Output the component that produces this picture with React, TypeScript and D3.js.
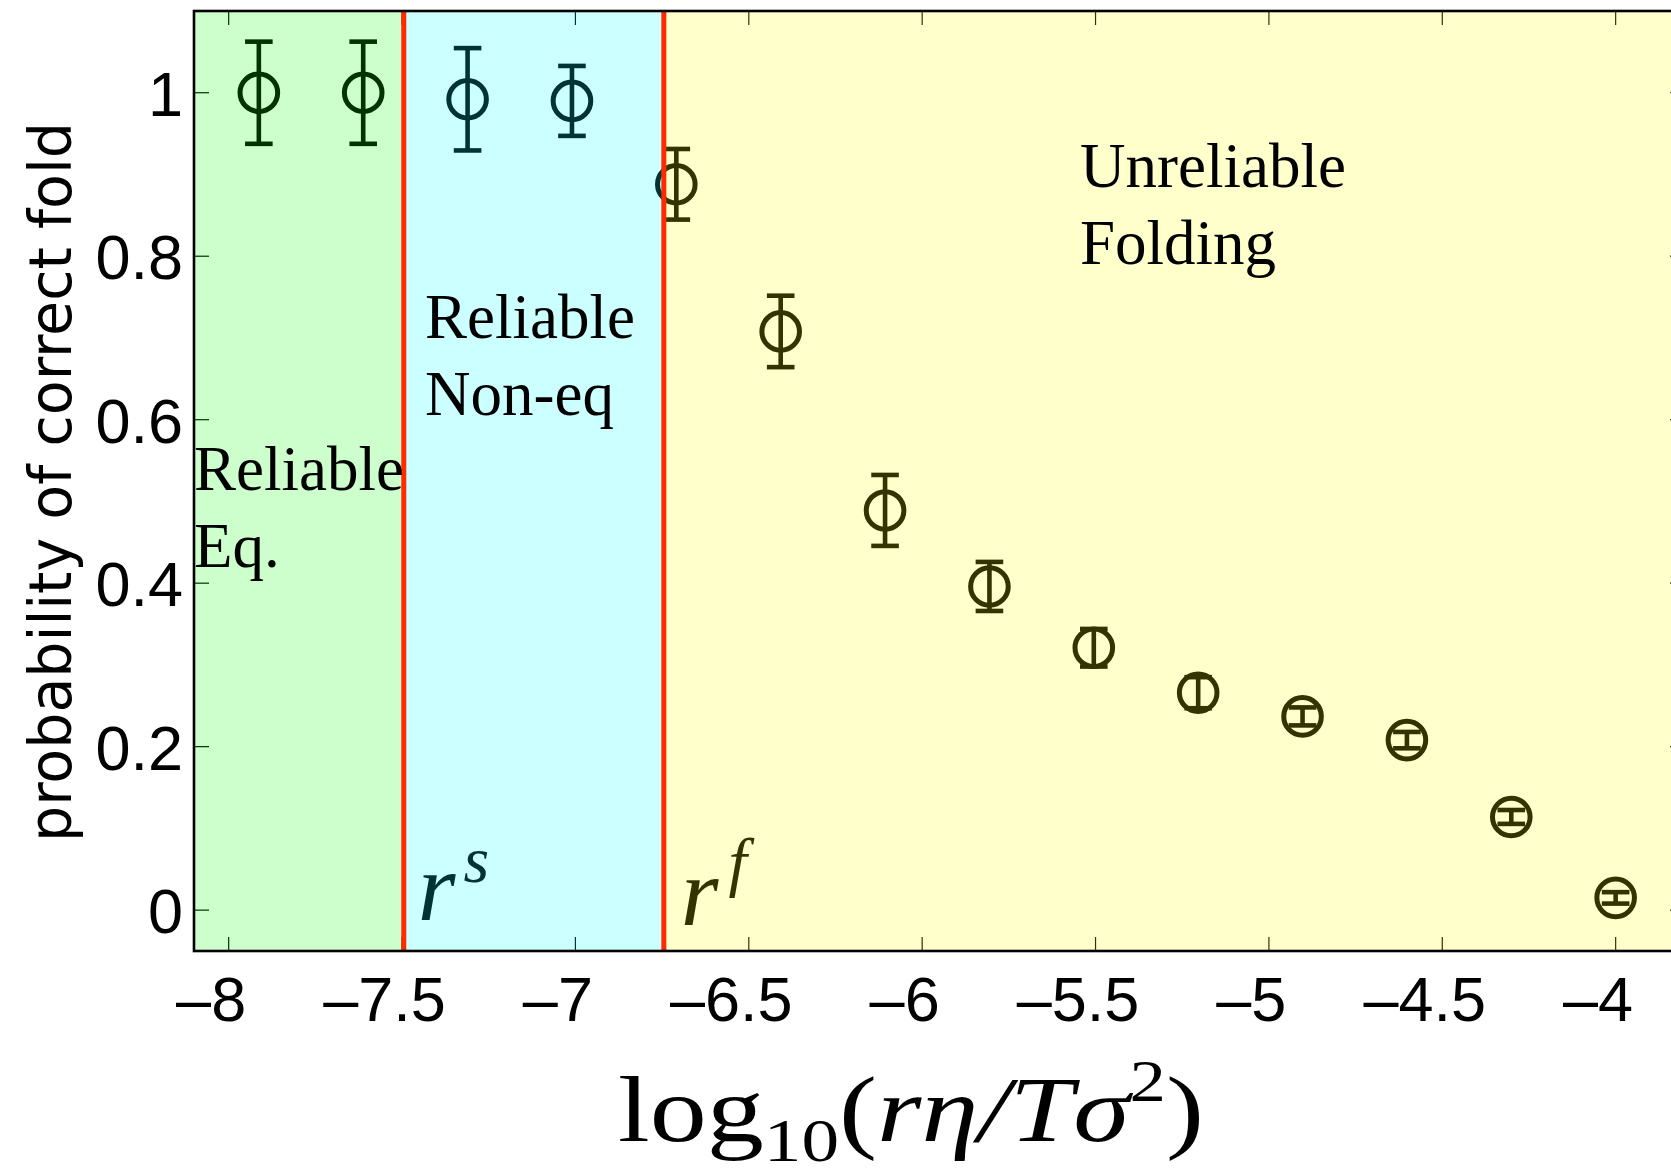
import React from "react";
import * as d3 from "d3";

// ---- data ----
const logRate = [-7.913, -7.612, -7.311, -7.01, -6.709, -6.408, -6.107, -5.806, -5.505, -5.204, -4.903, -4.602, -4.301, -4.0];
const probCorrect = [1.0, 1.0, 0.992, 0.99, 0.888, 0.708, 0.489, 0.396, 0.321, 0.266, 0.237, 0.208, 0.114, 0.015];
const probErr = [0.0625, 0.0625, 0.0626, 0.0428, 0.0432, 0.0437, 0.0434, 0.03, 0.023, 0.019, 0.011, 0.01, 0.0085, 0.007];
const xTicks = [-8, -7.5, -7, -6.5, -6, -5.5, -5, -4.5, -4];
const yTicks = [0, 0.2, 0.4, 0.6, 0.8, 1];
const regionEdges = [-8.1, -7.495, -6.745, -3.8];
const regionColors = ["#00ff00", "#00ffff", "#ffff00"];
const thresholds = [-7.495, -6.745];

const W = 1671;
const H = 1173;
const x = d3.scaleLinear().domain([-8.1, -3.8]).range([194, 1685]);
const y = d3.scaleLinear().domain([-0.05, 1.1]).range([951, 11]);

const SANS = "'Liberation Sans', Arial, Helvetica, sans-serif";
const SERIF = "'Liberation Serif', 'Times New Roman', serif";
const TICK_FS = 63;
const charW = (c: string) => (c === "." ? 0.278 : 0.556);
const digitsWidth = (s: string) => s.split("").reduce((a, c) => a + charW(c), 0) * TICK_FS;

export default function App() {
  const [x0, x1] = x.range();
  const [yb, yt] = y.range();
  return (
    <svg width={W} height={H} style={{ position: "absolute", left: 0, top: 0, display: "block" }}>
      <rect x={0} y={0} width={W} height={H} fill="#ffffff" />
      {/* ticks (below the translucent patches) */}
      <g stroke="#000" strokeWidth={1.2}>
        {xTicks.map((t) => (
          <g key={"xt" + t}>
            <line x1={x(t)} x2={x(t)} y1={yb} y2={yb - 14} />
            <line x1={x(t)} x2={x(t)} y1={yt} y2={yt + 14} />
          </g>
        ))}
        {yTicks.map((t) => (
          <g key={"yt" + t}>
            <line x1={x0} x2={x0 + 15} y1={y(t)} y2={y(t)} />
            <line x1={x1} x2={x1 - 15} y1={y(t)} y2={y(t)} />
          </g>
        ))}
      </g>
      {/* data with error bars */}
      <g stroke="#000" fill="none">
        {logRate.map((lx, i) => {
          const cx = x(lx);
          const cy = y(probCorrect[i]);
          const ylo = y(probCorrect[i] - probErr[i]);
          const yhi = y(probCorrect[i] + probErr[i]);
          return (
            <g key={"p" + i}>
              <line x1={cx} x2={cx} y1={yhi} y2={ylo} strokeWidth={4.6} />
              <line x1={cx - 13.8} x2={cx + 13.8} y1={yhi} y2={yhi} strokeWidth={4.6} />
              <line x1={cx - 13.8} x2={cx + 13.8} y1={ylo} y2={ylo} strokeWidth={4.6} />
              <circle cx={cx} cy={cy} r={18.8} strokeWidth={5} />
            </g>
          );
        })}
      </g>
      {/* threshold symbols (below patches, so tinted) */}
      <text x={x(thresholds[0]) + 14} y={920} fontFamily={SERIF} fontStyle="italic" fontSize={97} fill="#000">
        r<tspan fontSize={66} dy={-38} dx={8}>s</tspan>
      </text>
      <text x={x(thresholds[1]) + 17} y={925} fontFamily={SERIF} fontStyle="italic" fontSize={97} fill="#000">
        r<tspan fontSize={66} dy={-41} dx={10}>f</tspan>
      </text>
      {/* translucent region patches */}
      {regionColors.map((c, i) => (
        <rect
          key={"r" + i}
          x={x(regionEdges[i])}
          y={yt}
          width={x(regionEdges[i + 1]) - x(regionEdges[i])}
          height={yb - yt}
          fill={c}
          fillOpacity={0.2}
        />
      ))}
      {/* threshold lines */}
      {thresholds.map((t) => (
        <line key={"th" + t} x1={x(t)} x2={x(t)} y1={yt} y2={yb} stroke="#ff2a00" strokeWidth={5} />
      ))}
      {/* region labels */}
      <g fontFamily={SERIF} fontSize={63} fill="#000">
        <text x={194} y={490}>Reliable</text>
        <text x={194} y={567}>Eq.</text>
        <text x={425} y={338}>Reliable</text>
        <text x={425} y={415}>Non-eq</text>
        <text x={1080} y={187}>Unreliable</text>
        <text x={1080} y={264}>Folding</text>
      </g>
      {/* axes box */}
      <rect x={x0} y={yt} width={x1 - x0} height={yb - yt} fill="none" stroke="#000" strokeWidth={2.6} />
      {/* tick labels */}
      <g fontFamily={SANS} fontSize={TICK_FS} fill="#000">
        {xTicks.map((t) => {
          const digits = String(Math.abs(t));
          return (
            <text key={"xl" + t} x={x(t) + digitsWidth(digits) / 2} y={1021} textAnchor="end">
              {"\u2013" + digits}
            </text>
          );
        })}
        {yTicks.map((t) => (
          <text key={"yl" + t} x={183} y={y(t) + 23} textAnchor="end">
            {String(t)}
          </text>
        ))}
      </g>
      {/* y axis title */}
      <text
        transform={`translate(71, 482) rotate(-90)`}
        textAnchor="middle"
        fontFamily="'Liberation Sans Narrow', 'DejaVu Sans Condensed', 'Liberation Sans', sans-serif"
        fontSize={58}
        textLength={720}
        lengthAdjust="spacingAndGlyphs"
        fill="#000"
      >
        probability of correct fold
      </text>
      {/* x axis title */}
      <text x={618} y={1141} fontFamily={SERIF} fontSize={94} fill="#000" textLength={586} lengthAdjust="spacingAndGlyphs">
        log<tspan fontSize={62} dy={20}>10</tspan>
        <tspan dy={-20}>(</tspan>
        <tspan fontStyle="italic">rη/Tσ</tspan>
        <tspan fontSize={60} dy={-40}>2</tspan>
        <tspan dy={40}>)</tspan>
      </text>
    </svg>
  );
}
